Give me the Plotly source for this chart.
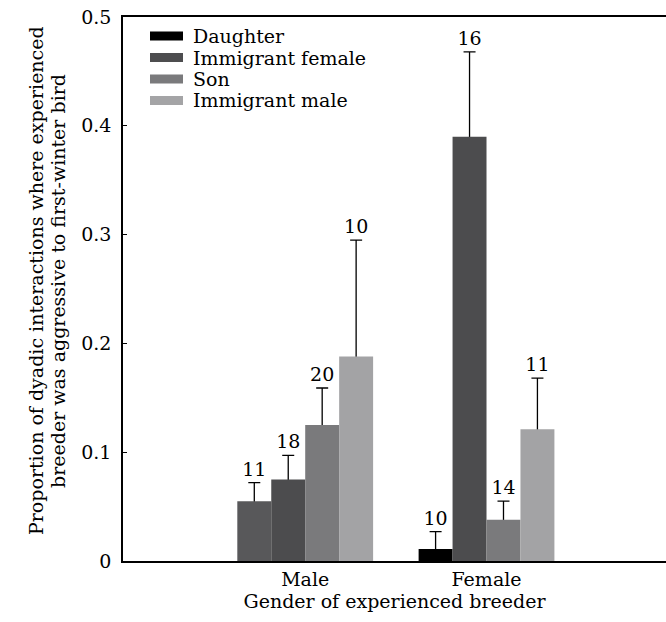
import plotly.graph_objects as go

# ---- data ----
categories = ["Male", "Female"]
series_names = ["Daughter", "Immigrant female", "Son", "Immigrant male"]
daughter = [0.055, 0.011]
immigrant_female = [0.075, 0.390]
son = [0.125, 0.038]
immigrant_male = [0.188, 0.121]
daughter_err = [0.017, 0.016]
immigrant_female_err = [0.022, 0.078]
son_err = [0.034, 0.017]
immigrant_male_err = [0.107, 0.047]
daughter_n = [11, 10]
immigrant_female_n = [18, 16]
son_n = [20, 14]
immigrant_male_n = [10, 11]
y_ticks = [0, 0.1, 0.2, 0.3, 0.4, 0.5]
y_tick_labels = ["0", "0.1", "0.2", "0.3", "0.4", "0.5"]
x_title = "Gender of experienced breeder"
y_title_lines = ["Proportion of dyadic interactions where experienced",
                 "breeder was aggressive to first-winter bird"]

# ---- styles ----
FONT = "DejaVu Serif"
FS = 19
legend_colors = ["#000000", "#4d4d4f", "#7a7a7c", "#a4a4a6"]
bar_colors = [["#58585a", "#000000"], ["#4c4c4e", "#4c4c4e"],
              ["#7a7a7c", "#7a7a7c"], ["#a3a3a5", "#a3a3a5"]]

means = [daughter, immigrant_female, son, immigrant_male]
errs = [daughter_err, immigrant_female_err, son_err, immigrant_male_err]
ns = [daughter_n, immigrant_female_n, son_n, immigrant_male_n]

W, H = 666, 622
L, R, T, B = 123, 0, 17, 61

fig = go.Figure()
# invisible bars reaching the error-bar tops: carry the upper whiskers and
# the sample sizes; drawn first so the real bars hide the lower caps
for i, name in enumerate(series_names):
    tops = [m + e for m, e in zip(means[i], errs[i])]
    fig.add_trace(go.Bar(
        x=categories, y=tops, offsetgroup=str(i),
        marker=dict(color="rgba(0,0,0,0)", line=dict(width=0)),
        error_y=dict(type="data", array=[0, 0], arrayminus=[e + 0.004 for e in errs[i]],
                     symmetric=False, color="black", thickness=1.3, width=6),
        text=[str(v) for v in ns[i]], textposition="outside",
        textfont=dict(family=FONT, size=FS, color="black"),
        cliponaxis=False, showlegend=False, hoverinfo="skip",
    ))
for i, name in enumerate(series_names):
    fig.add_trace(go.Bar(
        x=categories, y=means[i], name=name, offsetgroup=str(i),
        marker=dict(color=bar_colors[i], line=dict(width=0)),
        showlegend=False,
    ))

# manual legend (wide swatches)
pw, ph = W - L - R, H - T - B
def px2paper(px, py):
    return (px - L) / pw, (H - B - py) / ph

row_y = [36, 57.5, 79, 100.5]
shapes = []
annotations = []
for i, name in enumerate(series_names):
    x0, y0 = px2paper(150, row_y[i] - 4.5)
    x1, y1 = px2paper(183, row_y[i] + 4.5)
    shapes.append(dict(type="rect", xref="paper", yref="paper", x0=x0, x1=x1,
                       y0=y1, y1=y0, fillcolor=legend_colors[i], line=dict(width=0)))
    tx, ty = px2paper(191, row_y[i])
    annotations.append(dict(xref="paper", yref="paper", x=tx, y=ty, text=name,
                            showarrow=False, xanchor="left", yanchor="middle",
                            font=dict(family=FONT, size=FS, color="black")))

# y-axis title as two rotated lines
for cx, line in zip([36, 58], y_title_lines):
    ax_, ay_ = px2paper(cx, 281)
    annotations.append(dict(xref="paper", yref="paper", x=ax_, y=ay_, text=line,
                            textangle=-90, showarrow=False, xanchor="center",
                            yanchor="middle", font=dict(family=FONT, size=FS, color="black")))

fig.update_layout(
    width=W, height=H,
    margin=dict(l=L, r=R, t=T, b=B),
    paper_bgcolor="white", plot_bgcolor="white",
    barmode="group", bargap=0.251, bargroupgap=0,
    shapes=shapes, annotations=annotations,
    font=dict(family=FONT, size=FS, color="black"),
    xaxis=dict(
        categoryorder="array", categoryarray=categories, automargin=False,
        range=[-1.005, 1.99], showline=True, linecolor="black", linewidth=1.5,
        mirror=True, ticks="", showgrid=False, zeroline=False,
        tickfont=dict(family=FONT, size=FS),
        title=dict(text=x_title, standoff=4, font=dict(family=FONT, size=FS)),
    ),
    yaxis=dict(
        range=[0, 0.5], tickvals=y_ticks, ticktext=y_tick_labels, automargin=False,
        showline=True, linecolor="black", linewidth=1.5, mirror=False,
        ticks="inside", ticklen=4, tickcolor="black", showgrid=False, zeroline=False,
        tickfont=dict(family=FONT, size=FS), ticklabelstandoff=6,
    ),
)

fig.write_html("out.html", config={"displayModeBar": False},
               post_script="document.body.style.margin='0';")
